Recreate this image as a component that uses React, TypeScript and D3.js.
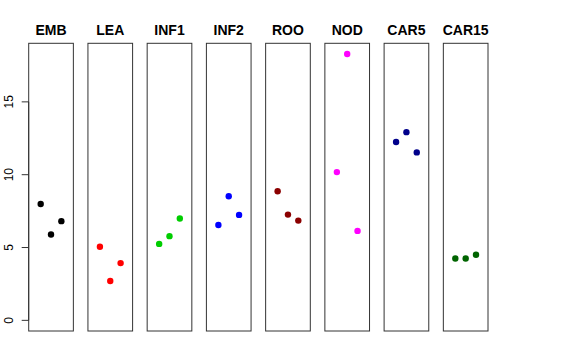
import { useEffect, useRef } from "react";
import * as d3 from "d3";

const groups = ["EMB", "LEA", "INF1", "INF2", "ROO", "NOD", "CAR5", "CAR15"];
const colors = ["#000000", "#FF0000", "#00CD00", "#0000FF", "#8B0000", "#FF00FF", "#00008B", "#006400"];
const replicates = [1, 2, 3];
const values = [
  [7.99, 5.89, 6.81],
  [5.05, 2.7, 3.93],
  [5.25, 5.78, 6.99],
  [6.55, 8.52, 7.24],
  [8.86, 7.26, 6.85],
  [10.18, 18.29, 6.14],
  [12.24, 12.92, 11.53],
  [4.25, 4.25, 4.5],
];
const yTicks = [0, 5, 10, 15];

export default function App() {
  const ref = useRef<SVGSVGElement>(null);

  useEffect(() => {
    const width = 576;
    const height = 360;
    const top = 43.3;
    const bottom = 331;

    const svg = d3.select(ref.current);
    svg.selectAll("*").remove();

    svg.append("rect")
      .attr("width", width)
      .attr("height", height)
      .attr("fill", "#fff");

    // panels
    const band = d3.scaleBand()
      .domain(groups)
      .range([28.7, 488])
      .paddingInner(0.246)
      .paddingOuter(0);

    // R style: ylim c(0, max) widened by 4%
    const yMax = d3.max(values.flat()) as number;
    const pad = yMax * 0.04;
    const y = d3.scaleLinear()
      .domain([0 - pad, yMax + pad])
      .range([bottom, top]);

    const x = d3.scaleLinear()
      .domain([0 - 0.16, 4 + 0.16])
      .range([0, band.bandwidth()]);

    groups.forEach((g, i) => {
      const panel = svg.append("g")
        .attr("transform", `translate(${band(g)},0)`);

      panel.append("rect")
        .attr("x", 0)
        .attr("y", top)
        .attr("width", band.bandwidth())
        .attr("height", bottom - top)
        .attr("fill", "none")
        .attr("stroke", "#333")
        .attr("stroke-width", 1);

      panel.append("text")
        .attr("x", band.bandwidth() / 2)
        .attr("y", 34.5)
        .attr("text-anchor", "middle")
        .attr("font-family", "Liberation Sans, Arial, sans-serif")
        .attr("font-weight", "bold")
        .attr("font-size", 14)
        .text(g);

      panel.selectAll("circle")
        .data(values[i])
        .enter()
        .append("circle")
        .attr("cx", (_d, j) => x(replicates[j]))
        .attr("cy", d => y(d))
        .attr("r", 3.2)
        .attr("fill", colors[i]);
    });

    // left axis
    const axisX = band(groups[0]) as number;
    const axis = svg.append("g")
      .attr("font-family", "Liberation Sans, Arial, sans-serif");

    axis.append("line")
      .attr("x1", axisX)
      .attr("x2", axisX)
      .attr("y1", y(0))
      .attr("y2", y(15))
      .attr("stroke", "#333");

    yTicks.forEach(t => {
      axis.append("line")
        .attr("x1", axisX - 7)
        .attr("x2", axisX)
        .attr("y1", y(t))
        .attr("y2", y(t))
        .attr("stroke", "#333");

      axis.append("text")
        .attr("transform", `translate(12.5,${y(t)}) rotate(-90)`)
        .attr("text-anchor", "middle")
        .attr("font-size", 12)
        .attr("fill", "#000")
        .text(t);
    });
  }, []);

  return (
    <svg
      ref={ref}
      width={576}
      height={360}
      style={{ position: "fixed", left: 0, top: 0, display: "block" }}
    />
  );
}
